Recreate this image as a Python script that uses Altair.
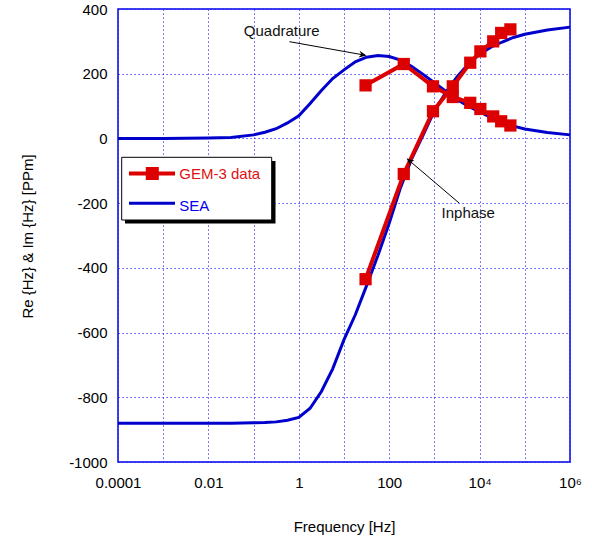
import altair as alt
import pandas as pd

# ---- data ----
gem_freq = [30, 210, 930, 2550, 6210, 10410, 20010, 30030, 47970]
gem_inphase = [-435, -110, 84, 161, 234, 269, 300, 326, 337]
gem_quad = [164, 230, 161, 128, 110, 91, 68, 53, 40]

sea_freq = [1e-4, 1e-3, 1e-2, 0.0316, 0.1, 0.178, 0.316, 0.562, 1, 1.78, 3.16, 5.62,
            10, 17.8, 31.6, 56.2, 100, 178, 316, 562, 1000, 1780, 3160, 5620,
            1e4, 1.78e4, 3.16e4, 5.62e4, 1e5, 3.16e5, 1e6]
sea_inphase = [-880, -880, -880, -880, -879, -878, -876, -871, -862, -834, -782, -712,
               -622, -545, -455, -362, -262, -152, -62, 10, 85, 142, 190, 230,
               260, 282, 298, 312, 322, 335, 344]
sea_quad = [0, 0, 1, 3, 11, 19, 30, 48, 70, 108, 148, 185,
            212, 237, 251, 256, 253, 242, 222, 198, 172, 146, 120, 100,
            82, 65, 50, 38, 29, 18, 11]

x_ticks = [1e-4, 1e-3, 1e-2, 1e-1, 1, 10, 100, 1e3, 1e4, 1e5, 1e6]
y_ticks = [-1000, -800, -600, -400, -200, 0, 200, 400]

ann_text = ["Quadrature", "Inphase"]
ann_freq = [0.42, 5610]
ann_val = [331, -229]
arrow_f0 = [0.62, 3540]
arrow_v0 = [299, -200]
arrow_f1 = [24.8, 292]
arrow_v1 = [259, -71]
arrow_angle = [100, 310]

# ---- tables ----
sea_df = pd.DataFrame({
    "freq": sea_freq * 2,
    "value": sea_inphase + sea_quad,
    "comp": ["in"] * len(sea_freq) + ["quad"] * len(sea_freq),
})
gem_df = pd.DataFrame({
    "freq": gem_freq * 2,
    "value": gem_inphase + gem_quad,
    "comp": ["in"] * len(gem_freq) + ["quad"] * len(gem_freq),
})
ann_df = pd.DataFrame({"label": ann_text, "freq": ann_freq, "value": ann_val})
arr_df = pd.DataFrame({"f0": arrow_f0, "v0": arrow_v0, "freq": arrow_f1,
                       "value": arrow_v1, "ang": arrow_angle})

BLUE = "#0000cc"
RED = "#dd0000"
FONT = "Liberation Sans"
GRID = "#2222ff"

xscale = alt.Scale(type="log", domain=[1e-4, 1e6], nice=False)
yscale = alt.Scale(domain=[-1000, 400], nice=False, zero=False)

lab = ("round(log(datum.value)/LN10) == -4 ? '0.0001' : "
       "round(log(datum.value)/LN10) == -2 ? '0.01' : "
       "round(log(datum.value)/LN10) == 0 ? '1' : "
       "round(log(datum.value)/LN10) == 2 ? '100' : "
       "round(log(datum.value)/LN10) == 4 ? '10\u2074' : "
       "round(log(datum.value)/LN10) == 6 ? '10\u2076' : ''")

xaxis = alt.Axis(values=x_ticks, labelExpr=lab, title="Frequency [Hz]",
                 grid=True, gridColor=GRID, gridDash=[1.2, 2.8], gridOpacity=1,
                 gridWidth=1,
                 ticks=False, domain=False, labelFontSize=15, labelColor="black",
                 labelPadding=13, labelFont=FONT, titleFont=FONT, titleFontSize=15,
                 titleFontWeight="normal", titleColor="black", titleY=57,
                 labelFlush=False)
yaxis = alt.Axis(values=y_ticks, labelExpr="'' + datum.value",
                 title="Re {Hz} & Im {Hz} [PPm]",
                 grid=True, gridColor=GRID, gridDash=[1.2, 2.8], gridOpacity=1,
                 gridWidth=1,
                 ticks=False, domain=False, labelFontSize=15, labelColor="black",
                 labelPadding=11, labelFont=FONT, titleFont=FONT, titleFontSize=15,
                 titleFontWeight="normal", titleColor="black",
                 titleX=-91, titleY=227, titleBaseline="middle", titleAngle=-90,
                 labelFlush=False)

X = alt.X("freq:Q", scale=xscale, axis=xaxis)
Y = alt.Y("value:Q", scale=yscale, axis=yaxis)

sea = alt.Chart(sea_df).mark_line(color=BLUE, strokeWidth=3).encode(
    x=X, y=Y, detail="comp:N",
)
gem_line = alt.Chart(gem_df).mark_line(color=RED, strokeWidth=4).encode(
    x=X, y=Y, detail="comp:N",
)
gem_pts = alt.Chart(gem_df).mark_point(shape="square", filled=True, size=150,
                                       color=RED, opacity=1).encode(x=X, y=Y)
ann = alt.Chart(ann_df).mark_text(font=FONT, fontSize=15, color="#111111").encode(
    x=X, y=Y, text="label:N",
)
arr_line = alt.Chart(arr_df).mark_rule(color="black", strokeWidth=1).encode(
    x=alt.X("f0:Q", scale=xscale, axis=xaxis),
    y=alt.Y("v0:Q", scale=yscale, axis=yaxis),
    x2="freq:Q", y2="value:Q",
)
arr_head = alt.Chart(arr_df).mark_point(shape="M0,-1L-0.7,0.6L0,0.1L0.7,0.6Z",
                                        filled=True, size=90,
                                        color="black", opacity=1).encode(
    x=X, y=Y, angle=alt.Angle("ang:Q", scale=None),
)

# ---- legend box (decoration) ----
leg_df = pd.DataFrame({"k": [0]})
base = alt.Chart(leg_df)
shadow = base.mark_rect(color="black").encode(
    x=alt.value(7), x2=alt.value(157.5), y=alt.value(152), y2=alt.value(214.5))
box = base.mark_rect(fill="white", stroke="black", strokeWidth=1).encode(
    x=alt.value(3.7), x2=alt.value(153.7), y=alt.value(148.3), y2=alt.value(211))
leg_red = base.mark_rule(color=RED, strokeWidth=4).encode(
    x=alt.value(11), x2=alt.value(57), y=alt.value(164.5))
leg_sq = base.mark_point(shape="square", filled=True, size=170, color=RED, opacity=1).encode(
    x=alt.value(34.3), y=alt.value(164.5))
leg_blue = base.mark_rule(color=BLUE, strokeWidth=3).encode(
    x=alt.value(11), x2=alt.value(57), y=alt.value(194.3))
leg_t1 = base.mark_text(text="GEM-3 data", align="left", baseline="middle",
                        font=FONT, fontSize=15, color="#e01010").encode(
    x=alt.value(61.3), y=alt.value(165))
leg_t2 = base.mark_text(text="SEA", align="left", baseline="middle",
                        font=FONT, fontSize=15, color="#0000ee").encode(
    x=alt.value(61.3), y=alt.value(196.5))

chart = alt.layer(
    sea, gem_line, gem_pts, ann, arr_line, arr_head,
    shadow, box, leg_red, leg_sq, leg_blue, leg_t1, leg_t2,
).properties(
    width=452, height=453,
    autosize=alt.AutoSizeParams(type="none"),
    padding={"left": 118, "top": 9, "right": 22, "bottom": 86},
    background="white",
).configure_view(
    stroke="#0000ee", strokeWidth=1.5,
)

chart.save("out.html", embed_options={"renderer": "svg", "actions": False})
